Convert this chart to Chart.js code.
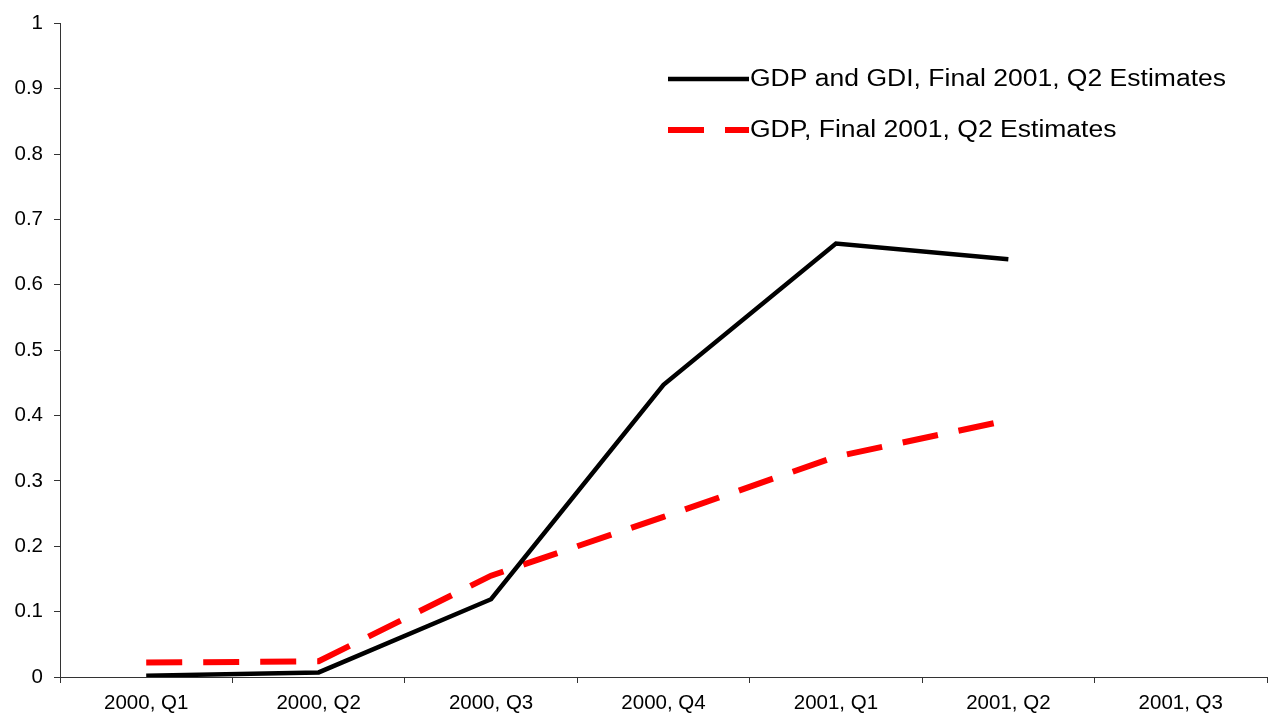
<!DOCTYPE html>
<html>
<head>
<meta charset="utf-8">
<script src="https://cdn.jsdelivr.net/npm/chart.js@4"></script>
<style>
  html, body { margin: 0; padding: 0; background: #fff; }
  #wrap { width: 1273px; height: 722px; }
</style>
</head>
<body>
<div id="wrap"><canvas id="chart" width="1273" height="722"></canvas></div>
<script>
const quarters = ['2000, Q1', '2000, Q2', '2000, Q3', '2000, Q4', '2001, Q1', '2001, Q2', '2001, Q3']
const gdpGdi = [0.002, 0.007, 0.119, 0.447, 0.663, 0.639, null]
const gdpOnly = [0.022, 0.024, 0.155, 0.245, 0.337, 0.393, null]
const yTicks = [0, 0.1, 0.2, 0.3, 0.4, 0.5, 0.6, 0.7, 0.8, 0.9, 1]

const FONT = 'Liberation Sans, Arial, sans-serif'

// legend drawn inside the plot, top right (text is a bit stretched in the original)
const insideLegend = {
  id: 'insideLegend',
  afterDraw(chart) {
    const ctx = chart.ctx
    const rows = [79, 130]
    ctx.save()
    ctx.font = '23px ' + FONT
    const stretch = 476 / ctx.measureText(chart.data.datasets[0].label).width
    ctx.restore()
    chart.data.datasets.forEach((ds, i) => {
      const y = rows[i]
      ctx.save()
      ctx.strokeStyle = ds.borderColor
      ctx.lineWidth = ds.borderWidth
      ctx.setLineDash(ds.borderDash || [])
      ctx.beginPath()
      ctx.moveTo(668, y)
      ctx.lineTo(749, y)
      ctx.stroke()
      ctx.setLineDash([])
      ctx.fillStyle = '#000'
      ctx.font = '23px ' + FONT
      ctx.textBaseline = 'middle'
      ctx.translate(750, y + 1)
      ctx.scale(stretch, 1)
      ctx.fillText(ds.label, 0, 0)
      ctx.restore()
    })
  }
}

new Chart(document.getElementById('chart').getContext('2d'), {
  type: 'line',
  data: {
    labels: quarters,
    datasets: [{
      label: 'GDP and GDI, Final 2001, Q2 Estimates',
      data: gdpGdi,
      borderColor: '#000000',
      borderWidth: 4.5,
      pointRadius: 0,
      tension: 0
    }, {
      label: 'GDP, Final 2001, Q2 Estimates',
      data: gdpOnly,
      borderColor: '#ff0000',
      borderWidth: 6,
      borderDash: [36, 21],
      pointRadius: 0,
      tension: 0
    }]
  },
  options: {
    responsive: false,
    animation: false,
    layout: { padding: { top: 21, right: 6, left: 0, bottom: 0 } },
    plugins: {
      legend: { display: false },
      tooltip: { enabled: false }
    },
    scales: {
      x: {
        offset: true,
        grid: {
          offset: true,
          drawOnChartArea: false,
          drawTicks: true,
          tickLength: 6,
          color: '#333'
        },
        border: { color: '#333', width: 1 },
        ticks: {
          color: '#000',
          font: { family: FONT, size: 20.5 },
          maxRotation: 0,
          autoSkip: false,
          padding: 8
        },
        afterFit: (s) => { s.height = 45 }
      },
      y: {
        min: 0,
        max: 1,
        afterBuildTicks: (s) => { s.ticks = yTicks.map(v => ({ value: v })) },
        grid: {
          drawOnChartArea: false,
          drawTicks: true,
          tickLength: 6,
          color: '#333'
        },
        border: { color: '#333', width: 1 },
        ticks: {
          color: '#000',
          font: { family: FONT, size: 20.5 },
          padding: 11,
          callback: (v) => String(Math.round(v * 10) / 10)
        },
        afterFit: (s) => { s.width = 60 }
      }
    }
  },
  plugins: [insideLegend]
})
</script>
</body>
</html>
